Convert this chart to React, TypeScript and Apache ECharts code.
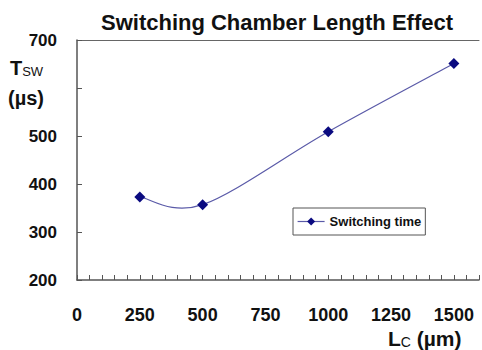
import React, { useEffect, useRef } from "react";
import * as echarts from "echarts";

const chamberLength = [250, 500, 1000, 1500];
const switchingTime = [373, 357, 509, 651];
const hiddenYLabels = [600];

export default function App() {
  const ref = useRef<HTMLDivElement>(null);
  useEffect(() => {
    const chart = echarts.init(ref.current!, null, { renderer: "svg" });
    const font = "'Liberation Sans', Arial, sans-serif";
    const pts = chamberLength.map((x, i) => [x, switchingTime[i]]);
    const lineColor = "#5a5aa8";
    chart.setOption({
      animation: false,
      backgroundColor: "#ffffff",
      title: {
        text: "Switching Chamber Length Effect",
        left: 272,
        textAlign: "center",
        top: 6,
        textStyle: { fontFamily: font, fontWeight: "bold", fontSize: 22, color: "#111" },
      },
      grid: { left: 77, right: 0, top: 40, bottom: 70 },
      legend: {
        left: 293,
        top: 208,
        padding: [7, 4, 7, 4],
        borderColor: "#555",
        borderWidth: 1,
        itemWidth: 27,
        itemHeight: 10,
        textStyle: { fontFamily: font, fontWeight: "bold", fontSize: 13, color: "#111" },
        data: [
          {
            name: "Switching time",
            lineStyle: { color: lineColor, width: 1.2, opacity: 1 },
          },
        ],
      },
      xAxis: [
        {
          type: "value",
          min: 0,
          max: 1600,
          interval: 50,
          position: "bottom",
          axisLine: { lineStyle: { color: "#555", width: 1.5 } },
          axisTick: { inside: true, length: 5, lineStyle: { color: "#555" } },
          splitLine: { show: false },
          axisLabel: {
            margin: 26,
            fontFamily: font,
            fontWeight: "bold",
            fontSize: 18,
            color: "#111",
            formatter: (v: number) => (v % 250 === 0 && v <= 1500 ? String(v) : ""),
          },
        },
        {
          type: "value",
          min: 0,
          max: 1600,
          position: "top",
          axisLine: { lineStyle: { color: "#666", width: 1 } },
          axisTick: { show: false },
          splitLine: { show: false },
          axisLabel: { show: false },
        },
      ],
      yAxis: {
        type: "value",
        min: 200,
        max: 700,
        interval: 100,
        axisLine: { show: true, lineStyle: { color: "#555", width: 1.5 } },
        axisTick: { show: true, inside: true, length: 5, lineStyle: { color: "#555" } },
        splitLine: { show: false },
        axisLabel: {
          margin: 20,
          fontFamily: font,
          fontWeight: "bold",
          fontSize: 17,
          color: "#111",
          formatter: (v: number) => (hiddenYLabels.includes(v) ? "" : String(v)),
        },
      },
      graphic: [
        {
          type: "text",
          left: 10,
          top: 58,
          style: {
            text: "{a|T}{b|SW}",
            rich: {
              a: { fontFamily: font, fontWeight: "bold", fontSize: 20, fill: "#111", verticalAlign: "bottom" },
              b: { fontFamily: font, fontSize: 13, fill: "#111", verticalAlign: "bottom" },
            },
          },
        },
        {
          type: "text",
          left: 8,
          top: 88,
          style: {
            text: "(µs)",
            font: `bold 20px ${font}`,
            fill: "#111",
          },
        },
        {
          type: "text",
          left: 388,
          top: 328,
          style: {
            text: "{a|L}{b|C}{a| (µm)}",
            rich: {
              a: { fontFamily: font, fontWeight: "bold", fontSize: 21, fill: "#111", verticalAlign: "bottom" },
              b: { fontFamily: font, fontSize: 14, fill: "#111", verticalAlign: "bottom" },
            },
          },
        },
      ],
      series: [
        {
          name: "curve",
          type: "custom",
          xAxisIndex: 0,
          data: pts,
          silent: true,
          z: 1,
          renderItem: (params: any, api: any) => {
            if (params.dataIndex !== 0) return null;
            const c = pts.map((p) => api.coord(p));
            const n = c.length;
            let d = `M${c[0][0]},${c[0][1]}`;
            for (let i = 0; i < n - 1; i++) {
              const p0 = c[Math.max(i - 1, 0)];
              const p1 = c[i];
              const p2 = c[i + 1];
              const p3 = c[Math.min(i + 2, n - 1)];
              const c1x = p1[0] + (p2[0] - p0[0]) / 6;
              const c1y = p1[1] + (p2[1] - p0[1]) / 6;
              const c2x = p2[0] - (p3[0] - p1[0]) / 6;
              const c2y = p2[1] - (p3[1] - p1[1]) / 6;
              d += ` C${c1x},${c1y} ${c2x},${c2y} ${p2[0]},${p2[1]}`;
            }
            return {
              type: "path",
              shape: { pathData: d },
              style: { fill: "none", stroke: lineColor, lineWidth: 1.2 },
            };
          },
        },
        {
          name: "Switching time",
          type: "line",
          xAxisIndex: 0,
          data: pts,
          z: 3,
          symbol: "diamond",
          symbolSize: 11,
          lineStyle: { color: lineColor, width: 1.2, opacity: 0 },
          itemStyle: { color: "#0a0a80" },
        },
      ],
    });
    return () => chart.dispose();
  }, []);
  return <div ref={ref} style={{ width: 482, height: 350, position: "absolute", left: 0, top: 0 }} />;
}
